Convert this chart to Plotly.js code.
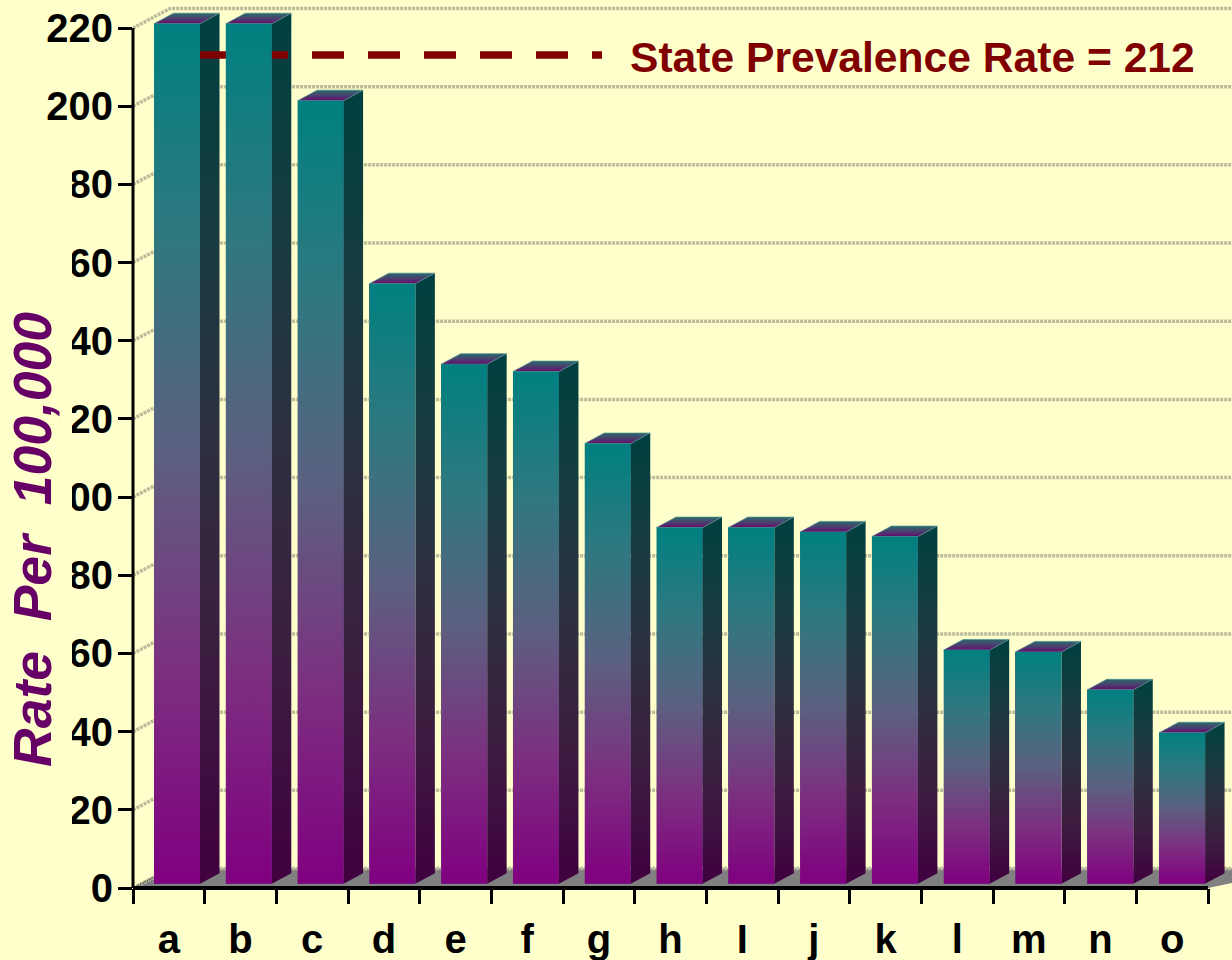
<!DOCTYPE html>
<html>
<head>
<meta charset="utf-8">
<script src="https://cdn.plot.ly/plotly-3.0.1.min.js"></script>
<style>html,body{margin:0;padding:0;background:#FFFFCC;overflow:hidden}#chart{width:1232px;height:960px}</style>
</head>
<body>
<div id="chart"></div>
<script>
// ---- data ----
const categories = ['a','b','c','d','e','f','g','h','I','j','k','l','m','n','o'];
const rates = [220,220,200.3,153.5,132.9,131,112.6,91.1,91.1,90,88.8,59.8,59.3,49.6,38.6];
const stateRate = 212;
const yTickValues = [0,20,40,60,80,100,120,140,160,180,200,220];
const yTickLabels = ['0','20','40','60','80','00','20','40','60','80','200','220'];
const yTitleText = 'Rate\u00a0\u00a0Per\u00a0\u00a0100,000';
const stateLabel = 'State Prevalence Rate = 212';

// ---- pseudo-3D geometry, in axis units ----
const PX_X = 71.67, PX_Y = 860/220;        // pixels per axis unit
const xMin = -0.5, xMax = xMin + 1099/PX_X;
const yMax = 888/PX_Y;
const barStep = 71.79/PX_X, barOffset = 44/PX_X - 0.5, barW = 46/PX_X;
const depthX = 19.5/PX_X, depthY = 10.5/PX_Y, lift = 4.3/PX_Y;
const wallX = 37/PX_X, wallY = 19.5/PX_Y;

const frontScale = [[0,'#800080'],[0.25,'#7c3080'],[0.5,'#5c6080'],[0.75,'#307880'],[1,'#008080']];
const sideScale  = [[0,'#400040'],[0.25,'#3c1c40'],[0.5,'#2e2f3f'],[0.75,'#183c40'],[1,'#004040']];
const topScale   = [[0,'#660a6c'],[0.5,'#4a4070'],[1,'#2a6a6a']];

const traces = [];
const poly = (xs, ys, scale, line) => ({
  type:'scatter', mode:'lines', x:xs, y:ys, fill:'toself',
  fillgradient:{type:'vertical', colorscale:scale},
  line: line || {width:0}, hoverinfo:'skip', showlegend:false
});
const lineTrace = (xs, ys, line) => ({
  type:'scatter', mode:'lines', x:xs, y:ys, line:line, hoverinfo:'skip', showlegend:false
});

// real bars (front faces)
const centers = rates.map((v,i)=> barOffset + i*barStep);
traces.push({type:'bar', x:centers, y:rates, base:lift, width:barW,
  marker:{color:'#5c6080', line:{width:0}}, hoverinfo:'skip', showlegend:false});

// back wall gridlines
const gx=[], gy=[];
yTickValues.forEach(v=>{ gx.push(xMin, xMin+wallX, xMax, null); gy.push(v, v+wallY, v+wallY, null); });
traces.push(lineTrace(gx, gy, {color:'#bcbc9c', width:3.5, dash:'3px,1px'}));
// dark hatched left edge of the floor
traces.push(lineTrace([xMin, xMin+wallX*0.6],[0, wallY*0.6], {color:'#000', width:1, dash:'1px,1px'}));

// side faces and tops
rates.forEach((v,i)=>{
  const x0=centers[i]-barW/2, x1=centers[i]+barW/2, t=v+lift, b=lift;
  traces.push(poly([x1,x1,x1+depthX,x1+depthX,x1],[b,t,t+depthY,b+depthY,b],sideScale));
  traces.push(poly([x0,x1,x1+depthX,x0+depthX,x0],[t,t,t+depthY,t+depthY,t],topScale,{color:'#4f8f8f',width:0.7}));
});

// state reference line: behind the front faces, over the side faces
traces.push(lineTrace([0.435,6.044],[stateRate+lift,stateRate+lift],{color:'#800000',width:7.5,dash:'32px,24px'}));

// front faces with the gradient
rates.forEach((v,i)=>{
  const x0=centers[i]-barW/2, x1=centers[i]+barW/2, t=v+lift, b=lift;
  traces.push(poly([x0,x1,x1,x0,x0],[b,b,t,t,b],frontScale));
});

const boundaries = categories.map((c,i)=>i-0.5).concat([14.5]);

const layout = {
  width:1232, height:960,
  margin:{l:133,r:0,t:0,b:72,pad:0},
  paper_bgcolor:'#FFFFCC', plot_bgcolor:'#FFFFCC',
  font:{family:'"Liberation Sans", Arial, sans-serif', color:'#000'},
  showlegend:false,
  bargap:0,
  xaxis:{range:[xMin,xMax], showgrid:false, zeroline:false, showline:false,
    tickmode:'array', tickvals:categories.map((c,i)=>i), ticktext:categories,
    ticks:'', tickfont:{size:40,weight:700,color:'#000'}, ticklabelstandoff:24,
    minor:{tickmode:'array', tickvals:boundaries, ticks:'outside', ticklen:15, tickwidth:3, tickcolor:'#000', showgrid:false}},
  yaxis:{range:[0,yMax], showgrid:false, zeroline:false, showline:false,
    tickmode:'array', tickvals:yTickValues, ticktext:yTickLabels,
    ticks:'outside', ticklen:14, tickwidth:3, tickcolor:'#000',
    tickfont:{size:40,weight:700,color:'#000'}, ticklabelstandoff:-3},
  shapes:[
    {type:'path', xref:'x', yref:'y', layer:'below', line:{width:0}, fillcolor:'#808080',
     path:`M${xMin},0 L${xMin+wallX},${wallY} L${xMax+1},${wallY} L14.5,0 Z`},
    // axis lines: clipped along their own direction only
    {type:'line', xref:'paper', yref:'y', x0:0, x1:0, y0:0, y1:220, line:{color:'#000',width:3}},
    {type:'line', xref:'x', yref:'paper', x0:-0.5, x1:14.5, y0:0, y1:0, line:{color:'#000',width:4}},
    // the reference crops the left of the middle tick labels
    {type:'rect', xref:'paper', yref:'paper', x0:(56-133)/1099, x1:(72-133)/1099, y0:(888-830)/888, y1:(888-165)/888,
     line:{width:0}, fillcolor:'#FFFFCC'}
  ],
  annotations:[
    {xref:'paper',yref:'paper',x:(628-133)/1099,y:1-57/888,xanchor:'left',yanchor:'middle',showarrow:false,
     text:stateLabel,font:{size:42.6,weight:700,color:'#800000'}},
    {xref:'paper',yref:'paper',x:(32-133)/1099,y:(888-540)/888,xanchor:'center',yanchor:'middle',showarrow:false,textangle:-90,
     text:yTitleText,font:{size:53.5,weight:700,style:'italic',color:'#660066'}}
  ]
};
Plotly.newPlot('chart', traces, layout, {displayModeBar:false, responsive:false});
</script>
</body>
</html>
